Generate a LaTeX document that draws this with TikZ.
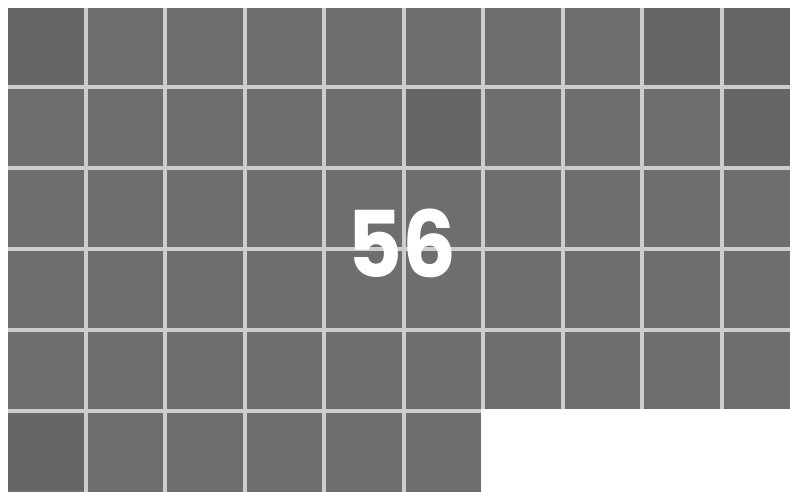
\documentclass[tikz,border=0pt]{standalone}
\usepackage{fontspec}
\setmainfont{Poppins}
\definecolor{sq}{HTML}{6E6E6E}
\definecolor{sqd}{HTML}{666666}
\definecolor{gapc}{HTML}{CDCDCD}
\begin{document}
\begin{tikzpicture}[x=1pt,y=-1pt]
\useasboundingbox (0,0) rectangle (790,491);
\fill[white] (0,0) rectangle (790,491);
\begin{scope}
\clip (0,0) rectangle (790,491);
% light gaps
\fill[gapc] (8,8) rectangle (800,409) (8,405) rectangle (481,500);
% squares
\foreach \r in {0,...,4}{
  \foreach \c in {0,...,9}{
    \pgfmathsetmacro{\xa}{8+79.5*\c}
    \pgfmathsetmacro{\ya}{8+81*\r}
    \fill[sq] (\xa,\ya) rectangle ++(75.5,77);
  }
}
\foreach \c in {0,...,5}{
  \pgfmathsetmacro{\xa}{8+79.5*\c}
  \fill[sq] (\xa,413) rectangle ++(75.5,90);
}
% darker hatched-looking squares
\foreach \c/\r in {0/0,9/0,9/1,8/0,0/5,5/1}{
  \pgfmathsetmacro{\xa}{8+79.5*\c}
  \pgfmathsetmacro{\ya}{8+81*\r}
  \fill[sqd] (\xa,\ya) rectangle ++(75.5,77);
}
\end{scope}
\node[text=white, font=\bfseries\fontsize{92}{92}\selectfont, inner sep=0pt, xscale=0.92, transform shape] (num) at (402,243) {56};
\end{tikzpicture}
\end{document}
